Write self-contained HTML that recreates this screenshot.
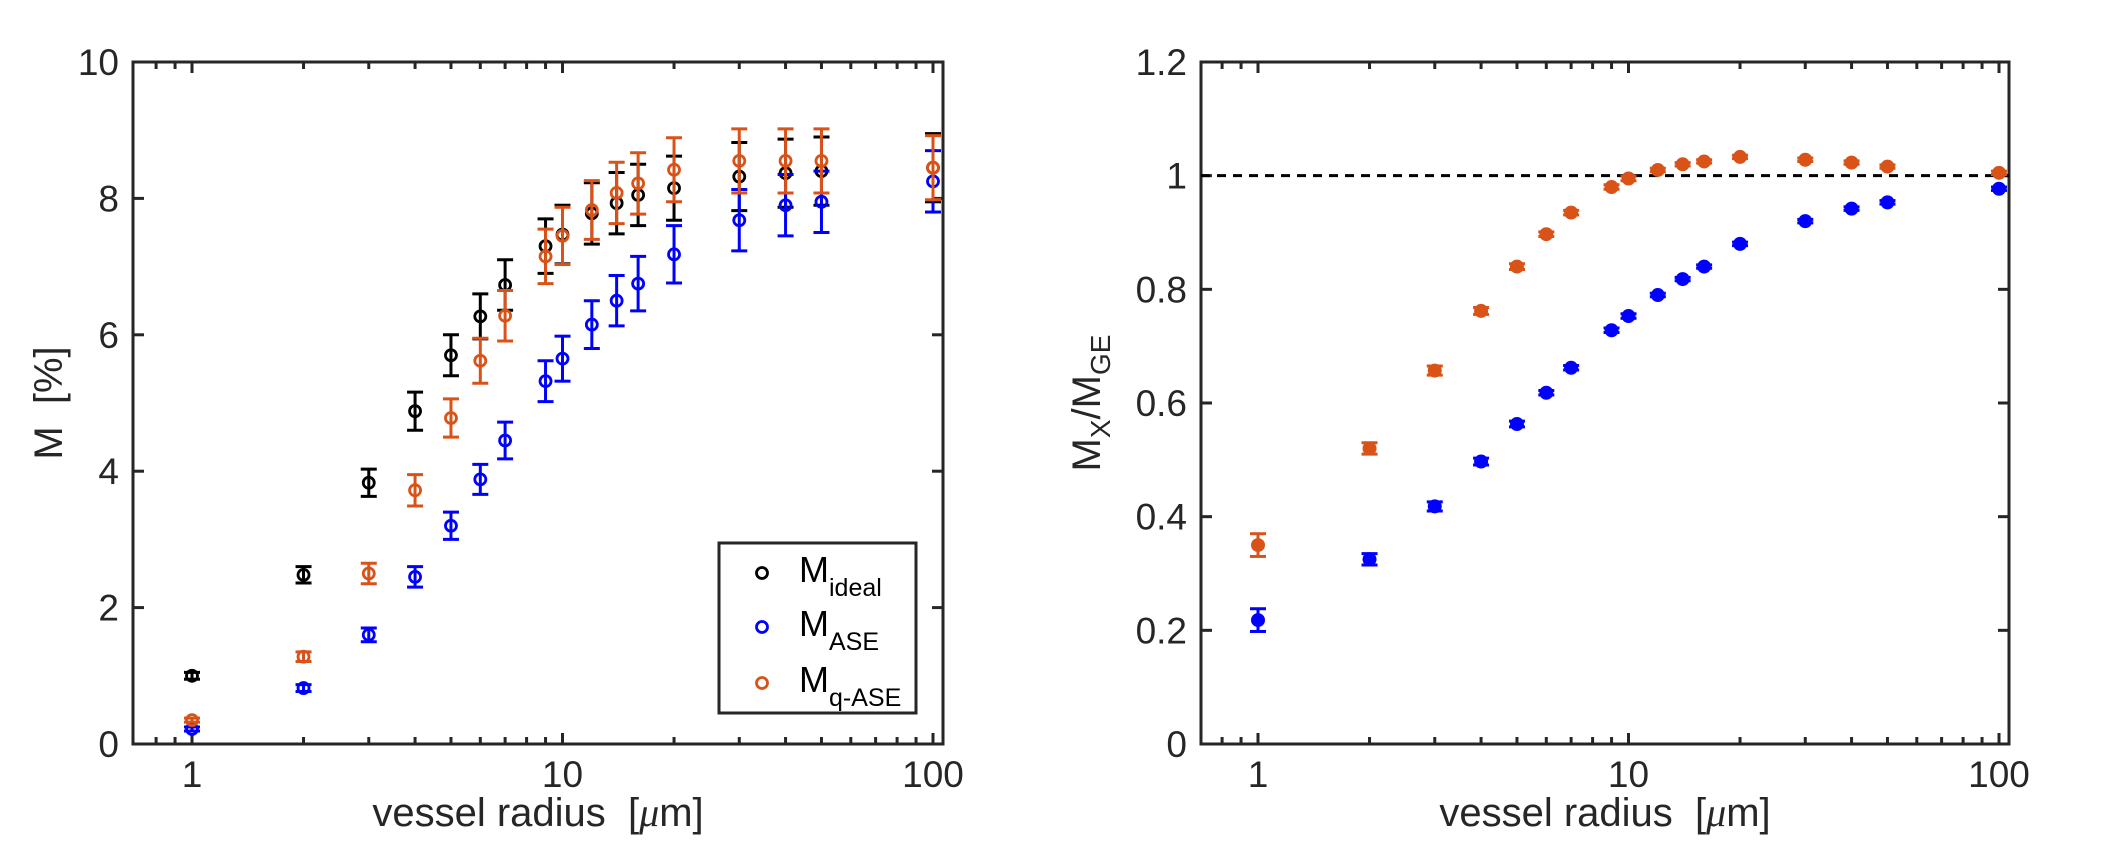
<!DOCTYPE html>
<html><head><meta charset="utf-8"><style>
html,body{margin:0;padding:0;background:#fff;}
svg{display:block;font-family:"Liberation Sans",sans-serif;}
</style></head><body>
<svg id="fig" width="2112" height="846" viewBox="0 0 2112 846" xmlns="http://www.w3.org/2000/svg"></svg>
<script>
const radii = [1,2,3,4,5,6,7,9,10,12,14,16,20,30,40,50,100];
const idealM = [1.0,2.48,3.83,4.88,5.7,6.27,6.73,7.3,7.47,7.78,7.93,8.05,8.15,8.32,8.37,8.4,8.45];
const idealErr = [0.05,0.12,0.2,0.28,0.3,0.33,0.37,0.4,0.43,0.45,0.45,0.45,0.47,0.5,0.5,0.5,0.5];
const aseM = [0.22,0.82,1.6,2.45,3.2,3.88,4.45,5.32,5.65,6.15,6.5,6.75,7.18,7.68,7.9,7.95,8.25];
const aseErr = [0.03,0.05,0.1,0.15,0.2,0.22,0.27,0.3,0.33,0.35,0.37,0.4,0.42,0.45,0.45,0.45,0.45];
const qaseM = [0.35,1.28,2.5,3.72,4.78,5.62,6.28,7.15,7.45,7.83,8.08,8.22,8.42,8.55,8.55,8.55,8.45];
const qaseErr = [0.03,0.07,0.15,0.23,0.28,0.33,0.37,0.4,0.42,0.43,0.45,0.45,0.47,0.47,0.47,0.47,0.47];
const ratioQase = [0.35,0.52,0.657,0.762,0.84,0.897,0.935,0.98,0.995,1.01,1.02,1.025,1.033,1.028,1.023,1.016,1.005];
const ratioQaseErr = [0.02,0.01,0.008,0.006,0.005,0.004,0.004,0.004,0.004,0.003,0.003,0.003,0.003,0.003,0.003,0.003,0.003];
const ratioAse = [0.218,0.325,0.418,0.497,0.563,0.618,0.662,0.728,0.753,0.79,0.818,0.84,0.88,0.92,0.942,0.953,0.977];
const ratioAseErr = [0.02,0.01,0.008,0.006,0.005,0.004,0.004,0.004,0.004,0.003,0.003,0.003,0.003,0.003,0.003,0.003,0.003];
const leftYTicks = [0,2,4,6,8,10];
const rightYTicks = [0,0.2,0.4,0.6,0.8,1,1.2];
const rightYTickLabels = ["0","0.2","0.4","0.6","0.8","1","1.2"];
const xTickLabels = ["1","10","100"];
const xMajor = [1,10,100];
const xMinor = [0.8,0.9,2,3,4,5,6,7,8,9,20,30,40,50,60,70,80,90];

const NS = "http://www.w3.org/2000/svg";
const svg = document.getElementById('fig');
function mk(tag, attrs, parent){
  const e = document.createElementNS(NS, tag);
  for (const k in attrs) e.setAttribute(k, attrs[k]);
  (parent||svg).appendChild(e);
  return e;
}
const TOP=62, BOT=744;
function makePanel(left, right, x1px, ymax){
  const dec = 370.5;
  const xs = v => x1px + Math.log10(v)*dec;
  const ys = v => BOT - v/ymax*(BOT-TOP);
  return {left,right,xs,ys};
}
const P1 = makePanel(133, 943, 192, 10);
const P2 = makePanel(1201, 2009, 1258, 1.2);

function axes(P, yTicks, yLabels, name){
  const g = mk('g', {});
  
  
  mk('rect',{x:P.left,y:TOP,width:P.right-P.left,height:BOT-TOP,fill:'none',stroke:'#262626','stroke-width':3},g);
  xMajor.forEach((v,i)=>{
    const x=P.xs(v);
    mk('line',{x1:x,x2:x,y1:BOT,y2:BOT-11,stroke:'#262626','stroke-width':3},g);
    mk('line',{x1:x,x2:x,y1:TOP,y2:TOP+11,stroke:'#262626','stroke-width':3},g);
    const t=mk('text',{x:x,y:787,'text-anchor':'middle','font-size':37,fill:'#262626'},g);
    
    
    t.textContent=xTickLabels[i];
  });
  xMinor.forEach(v=>{
    const x=P.xs(v);
    if (x<=P.left+2||x>=P.right-2) return;
    mk('line',{x1:x,x2:x,y1:BOT,y2:BOT-7,stroke:'#262626','stroke-width':3},g);
    mk('line',{x1:x,x2:x,y1:TOP,y2:TOP+7,stroke:'#262626','stroke-width':3},g);
  });
  yTicks.forEach((v,i)=>{
    const y=P.ys(v);
    mk('line',{x1:P.left,x2:P.left+11,y1:y,y2:y,stroke:'#262626','stroke-width':3},g);
    mk('line',{x1:P.right,x2:P.right-11,y1:y,y2:y,stroke:'#262626','stroke-width':3},g);
    const t=mk('text',{x:P.left-14,y:y+13,'text-anchor':'end','font-size':37,fill:'#262626'},g);
    
    
    t.textContent=yLabels[i];
  });
  const xl=mk('text',{x:(P.left+P.right)/2,y:826,'text-anchor':'middle','font-size':40,fill:'#262626'},g);
  
  
  xl.innerHTML='vessel radius&#160;&#160;[<tspan font-family="Liberation Serif" font-style="italic">μ</tspan>m]';
}
axes(P1, leftYTicks, leftYTicks.map(String), 'left');
axes(P2, rightYTicks, rightYTickLabels, 'right');

const yl1 = mk('text',{transform:'translate(62,403) rotate(-90)','text-anchor':'middle','font-size':40,fill:'#262626'});


yl1.innerHTML='M&#160;&#160;[%]';
const yl2 = mk('text',{transform:'translate(1100,403) rotate(-90)','text-anchor':'middle','font-size':40,fill:'#262626'});


yl2.innerHTML='M<tspan font-size="28" dy="10">X</tspan><tspan dy="-10">/M</tspan><tspan font-size="28" dy="10">GE</tspan>';

const ref = mk('line',{x1:P2.left,x2:P2.right,y1:P2.ys(1),y2:P2.ys(1),stroke:'#000','stroke-width':3,'stroke-dasharray':'9 7'});



function series(P, vals, errs, color, name, filled){
  const g = mk('g',{});
  
  
  radii.forEach((r,i)=>{
    const x=P.xs(r), y=P.ys(vals[i]);
    const y1=P.ys(vals[i]-errs[i]), y2=P.ys(vals[i]+errs[i]);
    mk('line',{x1:x,x2:x,y1:y1,y2:y2,stroke:color,'stroke-width':3},g);
    mk('line',{x1:x-8,x2:x+8,y1:y1,y2:y1,stroke:color,'stroke-width':3},g);
    mk('line',{x1:x-8,x2:x+8,y1:y2,y2:y2,stroke:color,'stroke-width':3},g);
    const c=mk('circle',{cx:x,cy:y,r:filled?6:5.5,fill:filled?color:'none',stroke:color,'stroke-width':filled?2:2.8},g);
    
    
  });
}
series(P1, idealM, idealErr, '#000000', 'm-ideal-series', false);
series(P1, aseM, aseErr, '#0000ff', 'm-ase-series', false);
series(P1, qaseM, qaseErr, '#d95319', 'm-qase-series', false);
series(P2, ratioQase, ratioQaseErr, '#d95319', 'ratio-qase-series', true);
series(P2, ratioAse, ratioAseErr, '#0000ff', 'ratio-ase-series', true);

const lg = mk('g',{});


mk('rect',{x:719,y:543,width:197,height:170,fill:'#fff',stroke:'#262626','stroke-width':3},lg);
const legItems=[['#000000','ideal',573],['#0000ff','ASE',627],['#d95319','q-ASE',683]];
legItems.forEach(([c,sub,y])=>{
  const e=mk('g',{},lg);
  
  
  mk('circle',{cx:762,cy:y,r:5.5,fill:'none',stroke:c,'stroke-width':2.8},e);
  const t=mk('text',{x:799,y:y+9,'font-size':36,fill:'#000'},e);
  t.innerHTML='M<tspan font-size="25" dy="14">'+sub+'</tspan>';
});
</script>
</body></html>
